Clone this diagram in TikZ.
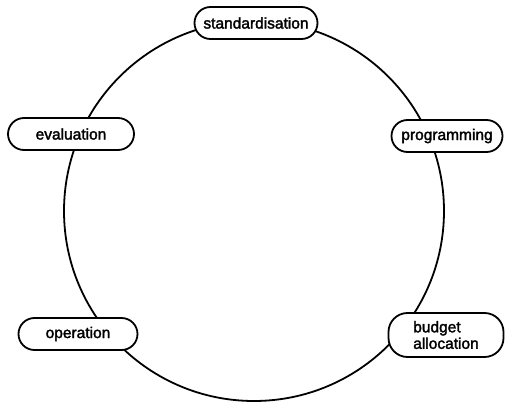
\documentclass[tikz,border=0pt]{standalone}
\usepackage{fontspec}
\setmainfont{Liberation Sans}
\newfontfamily\stagefont{Liberation Sans}[FakeBold=2]
\tikzset{%
            base/.style = {rectangle, rounded corners=16pt, draw=black, line width=1.8pt,
                           minimum height=32pt, fill=white,
                           text centered, font=\stagefont\fontsize{15.5}{16.5}\selectfont},
  stage/.style = {base, minimum width=118pt, align=center},
}

\begin{document}
\begin{tikzpicture}[x=1pt, y=-1pt]
  \useasboundingbox (0,0) rectangle (506,412);

  % the cycle
  \coordinate (cycleCentre) at (254,211);
  \draw[line width=1.8pt] (cycleCentre) circle (190pt);

  \node (onStandard) [stage, minimum width=123pt] at (256,23)  {standardisation};
  \node (onProgram)  [stage, minimum width=111pt] at (447,136) {programming};
  \node (onBudget)   [stage, minimum width=115pt, minimum height=44pt, align=left,
                      rounded corners=19pt] at (446,335) {budget\\allocation};
  \node (onOperate)  [stage, minimum width=119pt] at (78,334)  {operation};
  \node (onEvaluate) [stage, minimum width=126pt] at (71,134)  {evaluation};
\end{tikzpicture}
\end{document}
